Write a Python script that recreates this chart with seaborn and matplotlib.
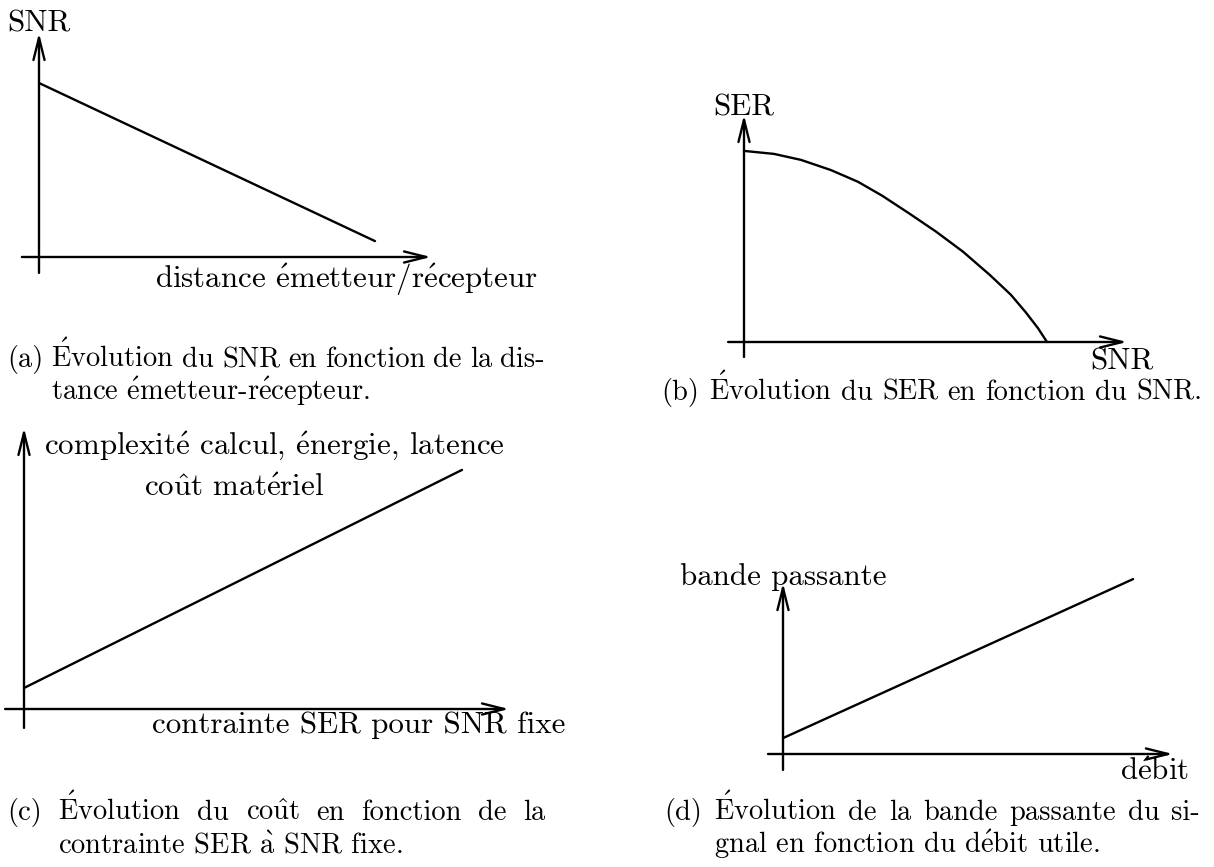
import matplotlib
matplotlib.use("Agg")
import matplotlib.pyplot as plt
import seaborn as sns

# ---------------- data (arbitrary units) ----------------
# (a) SNR versus transmitter/receiver distance
distance = [0.0, 11.2]
snr_dist = [5.8, 0.53]

# (b) SER versus SNR
snr = [0.0, 1.0, 1.9, 2.9, 3.8, 4.6, 5.5, 6.4, 7.3, 8.2, 8.9, 9.4, 9.8, 10.1]
ser = [6.37, 6.27, 6.07, 5.73, 5.34, 4.88, 4.29, 3.68, 3.01, 2.23, 1.57, 0.98, 0.46, 0.0]

# (c) cost versus SER constraint at fixed SNR
ser_constraint = [0.0, 14.6]
cost = [0.7, 7.97]

# (d) bandwidth versus useful bit rate
debit = [0.0, 11.67]
bandwidth = [0.53, 5.83]

# ---------------- style ----------------
sns.set_theme(style="white")
plt.rcParams["font.family"] = ["cmr10", "DejaVu Serif"]
plt.rcParams["mathtext.fontset"] = "cm"
plt.rcParams["axes.formatter.use_mathtext"] = True

W, H = 1214, 867
SCALE = 30.0          # pixels per data unit
LABEL_SIZE = 22.3
CAPTION_SIZE = 20.5
LEAD = 33             # caption line spacing (px)
LW = 1.7

fig = plt.figure(figsize=(W / 100, H / 100), dpi=100)
fig.patch.set_facecolor("white")

ACCENTS = {
    "é": r"$\mathrm{\acute{e}}$",
    "É": r"$\mathrm{\acute{E}}$",
    "û": r"$\mathrm{\hat{u}}$",
    "à": r"$\mathrm{\grave{a}}$",
}


def tex(s):
    return "".join(ACCENTS.get(c, c) for c in s)


def put(x, y, s, size=LABEL_SIZE, ha="left"):
    return fig.text(x / W, 1 - y / H, tex(s), fontsize=size, ha=ha,
                    va="baseline", color="black")


ARROW = dict(arrowstyle="->,head_length=1.6,head_width=0.4", lw=LW,
             color="black", shrinkA=0, shrinkB=0, mutation_scale=10)


def panel(ox, oy, xext, yext):
    """Axes whose data origin sits at pixel (ox, oy), with arrowed axes."""
    pad = 1.0
    x0, x1 = xext[0] - pad, xext[1] + pad
    y0, y1 = yext[0] - pad, yext[1] + pad
    left, right = ox + x0 * SCALE, ox + x1 * SCALE
    top, bottom = oy - y1 * SCALE, oy - y0 * SCALE
    ax = fig.add_axes([left / W, 1 - bottom / H, (right - left) / W, (bottom - top) / H])
    ax.set_xlim(x0, x1)
    ax.set_ylim(y0, y1)
    ax.set_axis_off()
    ax.annotate("", xy=(xext[1], 0), xytext=(xext[0], 0), arrowprops=ARROW,
                annotation_clip=False)
    ax.annotate("", xy=(0, yext[1]), xytext=(0, yext[0]), arrowprops=ARROW,
                annotation_clip=False)
    return ax


def curve(ax, x, y):
    sns.lineplot(x=x, y=y, ax=ax, color="black", linewidth=LW, sort=False,
                 estimator=None)
    ax.lines[-1].set_solid_joinstyle("round")
    ax.set_xlabel("")
    ax.set_ylabel("")


# ---------------- panels ----------------
ax_a = panel(39, 257, (-0.57, 13.07), (-0.53, 7.47))
curve(ax_a, distance, snr_dist)
put(39, 32, "SNR", ha="center")
put(538, 287, "distance émetteur/récepteur", ha="right")

ax_b = panel(744, 342, (-0.53, 12.77), (-0.5, 7.57))
curve(ax_b, snr, ser)
put(744, 115, "SER", ha="center")
put(1122, 370, "SNR", ha="center")

ax_c = panel(24, 709, (-0.63, 16.17), (-0.63, 9.37))
curve(ax_c, ser_constraint, cost)
put(44, 455, "complexité calcul, énergie, latence")
put(144, 496, "coût matériel")
put(152, 733, "contrainte SER pour SNR fixe")

ax_d = panel(783, 754, (-0.5, 13.0), (-0.53, 5.7))
curve(ax_d, debit, bandwidth)
put(783, 585, "bande passante", ha="center")
put(1189, 780, "débit", ha="right")

# ---------------- captions ----------------
renderer = fig.canvas.get_renderer()


def caption(lines, x0, x1, y):
    words = lines[0].split(" ")
    texts = [put(0, y, w, size=CAPTION_SIZE) for w in words]
    widths = [t.get_window_extent(renderer).width for t in texts]
    if len(lines) == 1:
        gap = CAPTION_SIZE * 100 / 72 * 0.333
        x = (x0 + x1) / 2 - (sum(widths) + gap * (len(words) - 1)) / 2
    else:
        gap = (x1 - x0 - sum(widths)) / (len(words) - 1)
        x = x0
    starts = []
    for t, w in zip(texts, widths):
        t.set_x(x / W)
        starts.append(x)
        x += w + gap
    for k, line in enumerate(lines[1:], start=1):
        put(starts[1], y + k * LEAD, line, size=CAPTION_SIZE)


caption(["(a) Évolution du SNR en fonction de la dis-",
         "tance émetteur-récepteur."], 7, 545, 367)
caption(["(b) Évolution du SER en fonction du SNR."], 664, 1200, 400)
caption(["(c) Évolution du coût en fonction de la",
         "contrainte SER à SNR fixe."], 7, 545, 820)
caption(["(d) Évolution de la bande passante du si-",
         "gnal en fonction du débit utile."], 664, 1200, 820)

fig.savefig("out.png", dpi=100, facecolor="white")
